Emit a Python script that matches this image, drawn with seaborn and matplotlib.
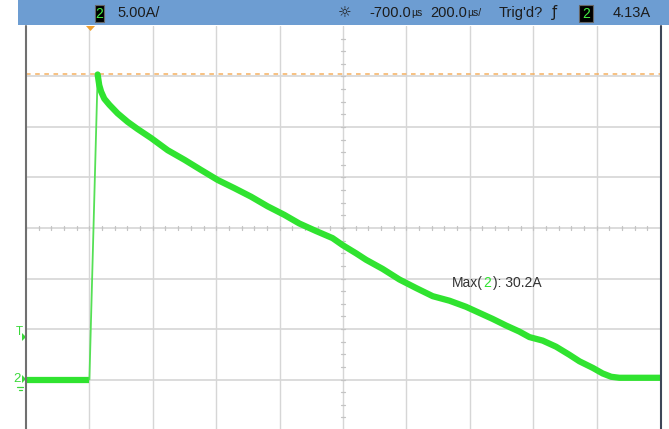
import numpy as np
import pandas as pd
import matplotlib
matplotlib.use("Agg")
import matplotlib.pyplot as plt
from matplotlib.patches import Rectangle, Polygon
import seaborn as sns

# Channel 2 current trace: time after trigger (µs) and current (A)
time_us = [-200, 0, 26, 31, 37, 47, 63, 89, 121, 152, 195, 247, 300, 352,
           405, 457, 510, 562, 615, 662, 715, 767, 799, 841, 873, 925, 978,
           1031, 1083, 1136, 1188, 1230, 1272, 1314, 1356, 1388, 1430, 1472,
           1514, 1546, 1588, 1619, 1646, 1672, 1800]
current_a = [0.0, 0.0, 30.2, 29.15, 28.5, 27.8, 27.2, 26.35, 25.5, 24.8,
             23.9, 22.7, 21.75, 20.75, 19.75, 18.95, 18.1, 17.15, 16.3, 15.45,
             14.7, 14.0, 13.3, 12.5, 11.85, 10.95, 9.9, 9.05, 8.25, 7.8,
             7.2, 6.6, 6.0, 5.35, 4.75, 4.2, 3.85, 3.25, 2.45, 1.8, 1.15, 0.6,
             0.27, 0.17, 0.17]

max_current = 30.2
trigger_level = 4.13
volts_per_div = "5.00A/"
delay_value, delay_unit = "-700.0", "µs"
timebase_value, timebase_unit = "200.0", "µs/"
trig_status = "Trig'd?"

sns.set_theme(style="white")
plt.rcParams["font.family"] = ["Liberation Sans", "DejaVu Sans"]

W, H = 669, 429
fig = plt.figure(figsize=(W / 100, H / 100), dpi=100)
fig.patch.set_facecolor("white")
renderer = fig.canvas.get_renderer()


def fx(x):
    return x / W


def fy(y):
    return 1 - y / H


def text_run(x_px, y_px, parts, gap=0.0):
    """Draw consecutive text pieces left to right, each with its own size/colour."""
    for s, size, color in parts:
        t_art = fig.text(fx(x_px), fy(y_px), s, fontsize=size, color=color, va="center")
        x_px += t_art.get_window_extent(renderer).width + gap
    return x_px


# screen area: 10 x 8 divisions, 200 µs/div and 5 A/div
ax = fig.add_axes([fx(26), fy(430), fx(660) - fx(26), fy(26) - fy(430)])
ax.set_xlim(-200, 1800)
ax.set_ylim(-5, 35)
ax.set_facecolor("white")

grid_c = "#d6d6d6"
for t in np.arange(0, 1800, 200):
    ax.axvline(t, color=grid_c, lw=1.0, zorder=1)
for v in np.arange(0, 35, 5):
    ax.axhline(v, color=grid_c, lw=1.2, zorder=1)

# minor ticks along the centre axes
tick_c = "#c4c4c4"
for t in np.arange(-200, 1800, 40):
    ax.plot([t, t], [14.8, 15.2], color=tick_c, lw=0.9, zorder=1)
for v in np.arange(-5, 35, 1.25):
    ax.plot([794, 806], [v, v], color=tick_c, lw=0.9, zorder=1)

# max level marker line
ax.axhline(max_current, color="#f5b060", lw=1.1, ls=(0, (3, 3)), zorder=2)

for s in ax.spines.values():
    s.set_visible(False)
ax.set_xticks([])
ax.set_yticks([])

df = pd.DataFrame({"t": time_us, "i": current_a})
green = "#30e330"
before = df.iloc[0:2]
rise = df.iloc[1:3]
after = df.iloc[2:]
sns.lineplot(data=before, x="t", y="i", ax=ax, color=green, lw=4.5, zorder=4,
             solid_capstyle="butt", estimator=None, sort=False)
sns.lineplot(data=rise, x="t", y="i", ax=ax, color="#55e055", lw=1.3, zorder=4,
             estimator=None, sort=False)
sns.lineplot(data=after, x="t", y="i", ax=ax, color=green, lw=4.5, zorder=4,
             solid_capstyle="round", solid_joinstyle="round", estimator=None, sort=False)
ax.set_xlabel("")
ax.set_ylabel("")

# measurement readout, channel number in the trace colour
label_fs = 10
x_next = text_run(452, 283, [("Max(", label_fs, "#333333")], gap=0)
x_next = text_run(x_next, 283, [("2", label_fs, green)], gap=2.5)
text_run(x_next, 283, [(f"): {max_current:.1f}A", label_fs, "#333333")])

# screen borders
fig.add_artist(plt.Line2D([fx(26), fx(26)], [fy(26), fy(429)], color="#707070", lw=1.5))
fig.add_artist(plt.Line2D([fx(660.5), fx(660.5)], [fy(26), fy(429)], color="#3e4658", lw=1.5))

# status bar
fig.add_artist(Rectangle((fx(18), fy(25)), 1 - fx(18), 25 / H, transform=fig.transFigure,
                         facecolor="#6d9dd2", edgecolor="none"))
txt_c = "#1c1c1c"
fs = 10.5


def channel_badge(x0, x1):
    fig.add_artist(Rectangle((fx(x0), fy(22)), fx(x1) - fx(x0), 17 / H,
                             transform=fig.transFigure, facecolor="black",
                             edgecolor="#666666", lw=0.8))
    fig.text(fx((x0 + x1) / 2), fy(13.5), "2", fontsize=10, color="#44ee44",
             ha="center", va="center")


channel_badge(95, 104)
fig.text(fx(117), fy(13), volts_per_div, fontsize=fs, color=txt_c, va="center")
fig.text(fx(345), fy(13), "☼", fontsize=11, color=txt_c, ha="center", va="center",
         family="DejaVu Sans")
text_run(369, 13, [(delay_value, fs, txt_c), (delay_unit, 7.5, txt_c)])
text_run(430, 13, [(timebase_value, fs, txt_c), (timebase_unit, 7.5, txt_c)])
fig.text(fx(499), fy(13), trig_status, fontsize=fs, color=txt_c, va="center")
fig.text(fx(554), fy(13), "ƒ", fontsize=fs, color=txt_c, ha="center", va="center",
         family="DejaVu Sans")
channel_badge(579, 593)
fig.text(fx(613), fy(13), f"{trigger_level:.2f}A", fontsize=fs, color=txt_c, va="center")

# trigger position marker
fig.add_artist(Polygon([(fx(86), fy(26)), (fx(95), fy(26)), (fx(90.5), fy(31))],
                       closed=True, transform=fig.transFigure, facecolor="#f0a030",
                       edgecolor="none"))

# left markers: trigger level and channel ground
mk = "#3ad83a"
y_trig = 337
fig.text(fx(19.5), fy(y_trig - 5), "T", fontsize=8.5, color=mk, ha="center", va="center")
fig.add_artist(Polygon([(fx(22), fy(y_trig - 4)), (fx(22), fy(y_trig + 4)), (fx(26), fy(y_trig))],
                       closed=True, transform=fig.transFigure, facecolor=mk, edgecolor="none"))
y_gnd = 379
fig.text(fx(16.5), fy(y_gnd), "2", fontsize=9.5, color=mk, ha="center", va="center")
fig.add_artist(Polygon([(fx(22), fy(y_gnd - 4)), (fx(22), fy(y_gnd + 4)), (fx(26), fy(y_gnd))],
                       closed=True, transform=fig.transFigure, facecolor=mk, edgecolor="none"))
fig.add_artist(plt.Line2D([fx(17), fx(23)], [fy(387), fy(387)], color=mk, lw=0.9))
fig.add_artist(plt.Line2D([fx(18.5), fx(21.5)], [fy(389.5), fy(389.5)], color=mk, lw=0.9))

fig.savefig("out.png", dpi=100, facecolor="white")
